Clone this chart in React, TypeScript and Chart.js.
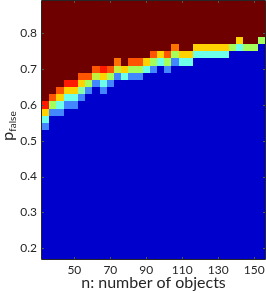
import React, { useEffect, useRef } from 'react';
import { Chart, registerables } from 'chart.js';

Chart.register(...registerables);

// Heatmap columns (n: number of objects) and rows (p_false)
const nValues = [34, 38, 42, 46, 50, 54, 58, 62, 66, 70, 74, 78, 82, 86, 90, 94, 98, 102, 106, 110, 114, 118, 122, 126, 130, 134, 138, 142, 146, 150, 154];
const pValues = [0.18, 0.2, 0.22, 0.24, 0.26, 0.28, 0.3, 0.32, 0.34, 0.36, 0.38, 0.4, 0.42, 0.44, 0.46, 0.48, 0.5, 0.52, 0.54, 0.56, 0.58, 0.6, 0.62, 0.64, 0.66, 0.68, 0.7, 0.72, 0.74, 0.76, 0.78, 0.8, 0.82, 0.84, 0.86, 0.88];

const xTicks = [50, 70, 90, 110, 130, 150];
const yTicks = [0.2, 0.3, 0.4, 0.5, 0.6, 0.7, 0.8];

// For each column: p of the lowest non-zero cell, and the transition values from bottom upward.
// Below the band the value is 0, above it the value is 1.
const bandStart = [0.54, 0.58, 0.58, 0.6, 0.6, 0.62, 0.64, 0.66, 0.64, 0.66, 0.68, 0.68, 0.68, 0.68, 0.7, 0.7, 0.72, 0.7, 0.72, 0.72, 0.72, 0.74, 0.74, 0.74, 0.74, 0.74, 0.76, 0.76, 0.76, 0.76, 0.78];
const bandValues = [
  [0.2, 0.35, 0.65, 0.88],
  [0.2, 0.5, 0.78],
  [0.2, 0.35, 0.65, 0.78],
  [0.2, 0.35, 0.65, 0.88],
  [0.2, 0.35, 0.65, 0.88],
  [0.2, 0.42, 0.65, 0.78],
  [0.2, 0.5, 0.78],
  [0.2, 0.55, 0.78],
  [0.2, 0.35, 0.65, 0.88],
  [0.2, 0.5, 0.78],
  [0.2, 0.55, 0.75],
  [0.35, 0.65],
  [0.2, 0.5, 0.78],
  [0.2, 0.5, 0.78],
  [0.35, 0.65],
  [0.2, 0.5, 0.78],
  [0.35, 0.65],
  [0.2, 0.5, 0.78],
  [0.2, 0.5, 0.75],
  [0.35, 0.65],
  [0.35, 0.65],
  [0.35, 0.65],
  [0.35, 0.65],
  [0.35, 0.65],
  [0.35, 0.65],
  [0.35, 0.65],
  [0.5],
  [0.35, 0.65],
  [0.5],
  [0.5],
  [0.5],
];

const colorStops: [number, number[]][] = [
  [0, [0, 0, 205]],
  [0.2, [66, 135, 255]],
  [0.35, [110, 255, 235]],
  [0.5, [165, 255, 90]],
  [0.65, [255, 210, 0]],
  [0.78, [255, 85, 0]],
  [0.88, [255, 25, 0]],
  [1, [110, 0, 0]],
];

function colorFor(v: number): string {
  for (let i = 1; i < colorStops.length; i++) {
    const [v1, c1] = colorStops[i];
    const [v0, c0] = colorStops[i - 1];
    if (v <= v1) {
      const t = v1 === v0 ? 0 : (v - v0) / (v1 - v0);
      const c = c0.map((a, k) => Math.round(a + (c1[k] - a) * t));
      return `rgb(${c[0]},${c[1]},${c[2]})`;
    }
  }
  const c = colorStops[colorStops.length - 1][1];
  return `rgb(${c[0]},${c[1]},${c[2]})`;
}

function cellValue(col: number, p: number): number {
  const idx = Math.round((p - bandStart[col]) / 0.02);
  if (idx < 0) return 0;
  if (idx >= bandValues[col].length) return 1;
  return bandValues[col][idx];
}

const FONT = 'Lato, "Open Sans", sans-serif';
const AXIS = '#262626';

const heatmapPlugin = {
  id: 'heatmap',
  beforeDatasetsDraw(chart: any) {
    const { ctx, chartArea } = chart;
    const xs = chart.scales.x;
    const ys = chart.scales.y;
    const pts = chart.data.datasets[0].data as any[];
    ctx.save();
    ctx.beginPath();
    ctx.rect(chartArea.left, chartArea.top, chartArea.right - chartArea.left, chartArea.bottom - chartArea.top);
    ctx.clip();
    for (const pt of pts) {
      const x0 = Math.round(xs.getPixelForValue(pt.x - 2));
      const x1 = Math.round(xs.getPixelForValue(pt.x + 2));
      const y0 = Math.round(ys.getPixelForValue(pt.y + 0.01));
      const y1 = Math.round(ys.getPixelForValue(pt.y - 0.01));
      ctx.fillStyle = colorFor(pt.v);
      ctx.fillRect(x0, y0, x1 - x0, y1 - y0);
    }
    ctx.restore();
  },
  afterDraw(chart: any) {
    const { ctx, chartArea } = chart;
    const xs = chart.scales.x;
    const ys = chart.scales.y;
    const { left, right, top, bottom } = chartArea;
    ctx.save();
    // inward tick marks
    ctx.strokeStyle = '#555';
    ctx.lineWidth = 1;
    ctx.beginPath();
    for (const t of xTicks) {
      const x = Math.round(xs.getPixelForValue(t)) + 0.5;
      ctx.moveTo(x, bottom);
      ctx.lineTo(x, bottom - 2);
      ctx.moveTo(x, top);
      ctx.lineTo(x, top + 2);
    }
    for (const t of yTicks) {
      const y = Math.round(ys.getPixelForValue(t)) + 0.5;
      ctx.moveTo(left, y);
      ctx.lineTo(left + 2, y);
      ctx.moveTo(right, y);
      ctx.lineTo(right - 2, y);
    }
    ctx.stroke();
    // box
    ctx.strokeStyle = AXIS;
    ctx.beginPath();
    ctx.moveTo(left - 0.5, top - 0.5);
    ctx.lineTo(right + 0.5, top - 0.5);
    ctx.lineTo(right + 0.5, bottom + 0.5);
    ctx.lineTo(left - 0.5, bottom + 0.5);
    ctx.closePath();
    ctx.stroke();
    // x title
    ctx.fillStyle = AXIS;
    ctx.font = `16px ${FONT}`;
    ctx.textAlign = 'center';
    ctx.textBaseline = 'alphabetic';
    ctx.fillText('n: number of objects', (left + right) / 2, 288);
    // y title with subscript
    ctx.translate(13, 126);
    ctx.rotate(-Math.PI / 2);
    ctx.font = `16px ${FONT}`;
    const wP = ctx.measureText('p').width;
    ctx.font = `10px ${FONT}`;
    const wS = ctx.measureText('false').width;
    const start = -(wP + wS) / 2;
    ctx.textAlign = 'left';
    ctx.font = `16px ${FONT}`;
    ctx.fillText('p', start, 0);
    ctx.font = `10px ${FONT}`;
    ctx.fillText('false', start + wP, 3);
    ctx.restore();
  },
};

const zeroPad = (s: any) => {
  s.paddingLeft = 0;
  s.paddingRight = 0;
  s.paddingTop = 0;
  s.paddingBottom = 0;
};

export default function App() {
  const ref = useRef<HTMLCanvasElement | null>(null);
  useEffect(() => {
    document.body.style.margin = '0';
    const canvas = ref.current!;
    const data: { x: number; y: number; v: number }[] = [];
    nValues.forEach((n, i) => {
      pValues.forEach((p) => data.push({ x: n, y: p, v: cellValue(i, p) }));
    });
    const chart = new Chart(canvas, {
      type: 'scatter',
      data: { datasets: [{ data, pointRadius: 0, pointHoverRadius: 0 }] as any },
      options: {
        animation: false,
        responsive: false,
        devicePixelRatio: 1,
        events: [],
        layout: { padding: { top: 1, right: 1, left: 0, bottom: 0 } },
        plugins: { legend: { display: false }, tooltip: { enabled: false } },
        scales: {
          x: {
            type: 'linear',
            min: 32,
            max: 156,
            afterBuildTicks: (s: any) => {
              s.ticks = xTicks.map((v) => ({ value: v }));
            },
            afterFit: (s: any) => {
              s.height = 34;
              zeroPad(s);
            },
            grid: { display: false, drawTicks: false },
            border: { display: false },
            ticks: {
              autoSkip: false,
              maxRotation: 0,
              padding: 4,
              color: AXIS,
              font: { family: FONT, size: 12 },
              callback: (v: any) => String(v),
            },
          },
          y: {
            type: 'linear',
            min: 0.17,
            max: 0.89,
            afterBuildTicks: (s: any) => {
              s.ticks = yTicks.map((v) => ({ value: v }));
            },
            afterFit: (s: any) => {
              s.width = 42;
              zeroPad(s);
            },
            grid: { display: false, drawTicks: false },
            border: { display: false },
            ticks: {
              autoSkip: false,
              padding: 5,
              color: AXIS,
              font: { family: FONT, size: 12 },
              callback: (v: any) => Number(v).toFixed(1),
            },
          },
        },
      },
      plugins: [heatmapPlugin],
    });
    return () => chart.destroy();
  }, []);
  return (
    <div style={{ position: 'absolute', left: 0, top: 0, width: 266, height: 293, background: '#fff' }}>
      <canvas ref={ref} width={266} height={293} />
    </div>
  );
}
